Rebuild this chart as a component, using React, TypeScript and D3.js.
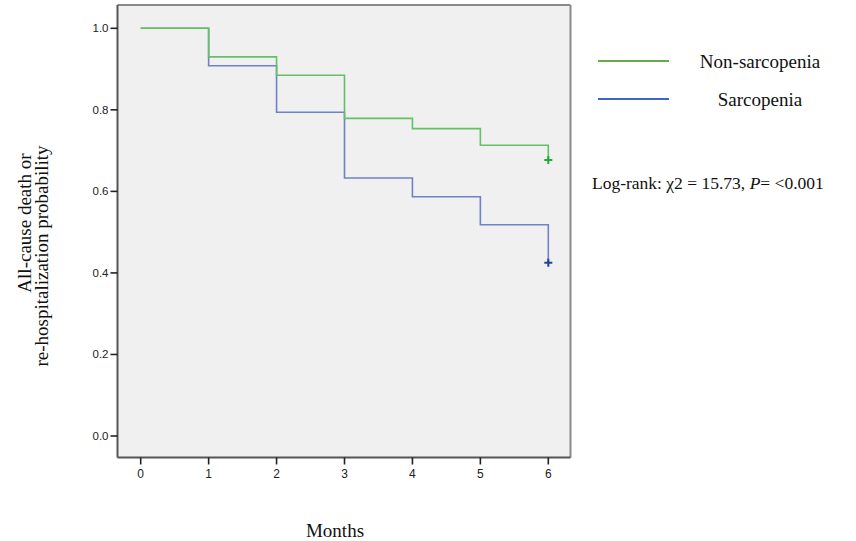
import React, { useEffect } from 'react';
import * as d3 from 'd3';

// Kaplan-Meier step values
const months = [0, 1, 2, 3, 4, 5, 6];
const nonSarcopenia = [1.0, 0.93, 0.885, 0.779, 0.754, 0.713, 0.677];
const sarcopenia = [1.0, 0.908, 0.794, 0.633, 0.587, 0.518, 0.425];
const yTicks = [0, 0.2, 0.4, 0.6, 0.8, 1.0];
const seriesNames = ['Non-sarcopenia', 'Sarcopenia'];

const W = 856;
const H = 541;
const frame = { left: 117.5, right: 570.5, top: 5, bottom: 457.5 };

const serif = '"Liberation Serif", "DejaVu Serif", serif';
const sans = '"Liberation Sans", Arial, sans-serif';

const lineColors = ['#63c163', '#6f82c4'];
const censorColors = ['#22a83a', '#1f3f9e'];
const legendColors = ['#6aaa4a', '#3c67c8'];

export default function App() {
  useEffect(() => {
    document.body.style.margin = '0';
  }, []);

  const x = d3.scaleLinear().domain([0, 6]).range([140.7, 548.3]);
  const y = d3.scaleLinear().domain([0, 1]).range([436, 28.3]);

  const stepLine = d3
    .line<[number, number]>()
    .x(d => x(d[0]))
    .y(d => y(d[1]))
    .curve(d3.curveStepAfter);

  const allSeries = [nonSarcopenia, sarcopenia];
  const paths = allSeries.map(vals => {
    const pts: [number, number][] = months.map((m, i) => [m, vals[i]]);
    return stepLine(pts);
  });

  // draw blue first so green is on top
  const order = [1, 0];

  return (
    <svg width={W} height={H} style={{ display: 'block', background: '#fff' }}>
      <rect
        x={frame.left}
        y={frame.top}
        width={frame.right - frame.left}
        height={frame.bottom - frame.top}
        fill="#f0f0f0"
      />
      {/* frame */}
      <line x1={frame.left} x2={frame.right} y1={frame.top} y2={frame.top} stroke="#8a8a8a" strokeWidth={2} />
      <line x1={frame.right} x2={frame.right} y1={frame.top} y2={frame.bottom} stroke="#8a8a8a" strokeWidth={2} />
      <line x1={frame.left} x2={frame.left} y1={frame.top} y2={frame.bottom} stroke="#555" strokeWidth={2} />
      <line x1={frame.left} x2={frame.right} y1={frame.bottom} y2={frame.bottom} stroke="#555" strokeWidth={2} />

      {/* y ticks */}
      {yTicks.map(t => (
        <g key={t}>
          <line x1={frame.left - 7} x2={frame.left} y1={y(t)} y2={y(t)} stroke="#222" strokeWidth={1.6} />
          <text
            x={frame.left - 9}
            y={y(t)}
            dy="0.35em"
            textAnchor="end"
            fontFamily={sans}
            fontSize={11.5}
            fill="#222"
          >
            {d3.format('.1f')(t)}
          </text>
        </g>
      ))}

      {/* x ticks */}
      {months.map(m => (
        <g key={m}>
          <line x1={x(m)} x2={x(m)} y1={frame.bottom} y2={frame.bottom + 7} stroke="#222" strokeWidth={1.6} />
          <text
            x={x(m)}
            y={frame.bottom + 20}
            textAnchor="middle"
            fontFamily={sans}
            fontSize={12}
            fill="#222"
          >
            {m}
          </text>
        </g>
      ))}

      {/* curves */}
      {order.map(i => (
        <path key={i} d={paths[i] || ''} fill="none" stroke={lineColors[i]} strokeWidth={1.6} />
      ))}

      {/* censor marks */}
      {allSeries.map((vals, i) => {
        const cx = x(months[months.length - 1]);
        const cy = y(vals[vals.length - 1]);
        return (
          <g key={i} stroke={censorColors[i]} strokeWidth={2}>
            <line x1={cx - 4} x2={cx + 4} y1={cy} y2={cy} />
            <line x1={cx} x2={cx} y1={cy - 4} y2={cy + 4} />
          </g>
        );
      })}

      {/* legend */}
      {seriesNames.map((name, i) => {
        const ly = 61 + i * 38;
        return (
          <g key={name}>
            <line x1={598} x2={669} y1={ly} y2={ly} stroke={legendColors[i]} strokeWidth={1.8} />
            <text x={760} y={ly + 7} textAnchor="middle" fontFamily={serif} fontSize={19} fill="#111">
              {name}
            </text>
          </g>
        );
      })}

      {/* log-rank annotation */}
      <text x={592} y={189} fontFamily={serif} fontSize={17.5} fill="#111">
        Log-rank: χ2 = 15.73, <tspan fontStyle="italic">P</tspan>= &lt;0.001
      </text>

      {/* axis titles */}
      <text
        transform="translate(31,223) rotate(-90)"
        textAnchor="middle"
        fontFamily={serif}
        fontSize={19}
        fill="#111"
      >
        All-cause death or
      </text>
      <text
        transform="translate(48,256) rotate(-90)"
        textAnchor="middle"
        fontFamily={serif}
        fontSize={19}
        fill="#111"
      >
        re-hospitalization probability
      </text>
      <text x={335} y={537} textAnchor="middle" fontFamily={serif} fontSize={19} fill="#111">
        Months
      </text>
    </svg>
  );
}
